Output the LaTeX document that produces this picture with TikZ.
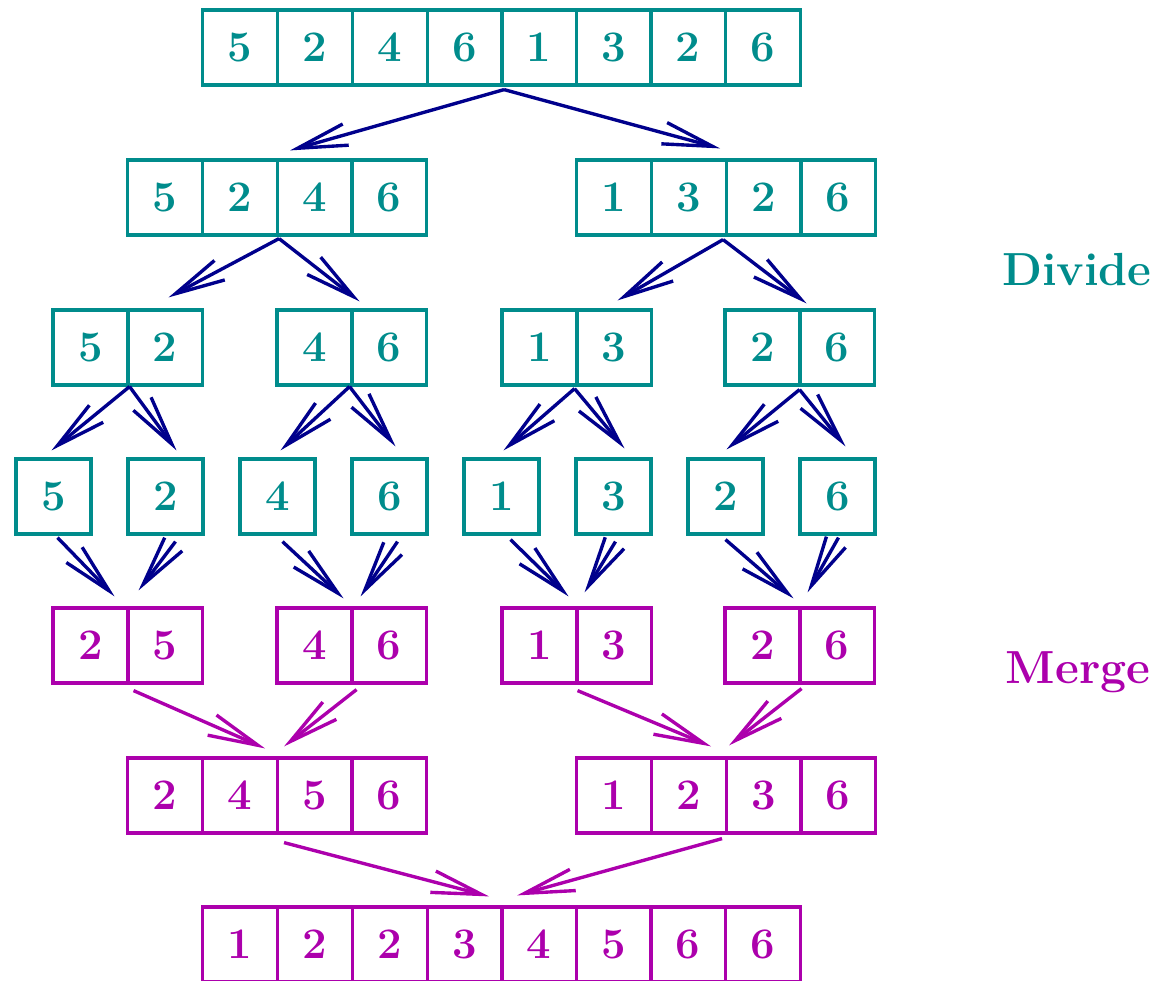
\documentclass[tikz,border=0pt]{standalone}
\usepackage{tikz}
\usepackage{xcolor}
\usetikzlibrary{arrows.meta,calc}

\definecolor{divcol}{RGB}{0,140,140}
\definecolor{mrgcol}{RGB}{172,0,172}
\definecolor{arrcol}{RGB}{0,0,140}

\begin{document}
\begin{tikzpicture}[
  x=0.025cm, y=-0.025cm,
  cell/.style={draw, line width=2.4pt, minimum width=1.8675cm, minimum height=1.87cm, inner sep=0pt,
    font=\fontsize{31}{34}\selectfont\bfseries},
  dcell/.style={cell, divcol, text=divcol},
  mcell/.style={cell, mrgcol, text=mrgcol},
  tag/.style={font=\fontsize{33}{36}\selectfont\bfseries},
  darr/.style={arrcol, line width=2.4pt, -{Straight Barb[length=1.25cm, width=0.55cm]}},
  marr/.style={mrgcol, line width=2.4pt, -{Straight Barb[length=1.25cm, width=0.55cm]}}
]
  \useasboundingbox (0,0) rectangle (1159,981);

  % divide rows
  \foreach \x/\d [count=\i] in {240/5,315/2,390/4,465/6,539/1,614/3,688/2,763/6}
    \node[dcell] (r1c\i) at (\x,47.5) {\d};
  \foreach \x/\d [count=\i] in {165/5,240/2,315/4,389/6,614/1,689/3,764/2,838/6}
    \node[dcell] (r2c\i) at (\x,197.5) {\d};
  \foreach \x/\d [count=\i] in {90.5/5,165/2,314.5/4,389/6,539.5/1,614/3,762.5/2,837/6}
    \node[dcell] (r3c\i) at (\x,347.5) {\d};
  \foreach \x/\d [count=\i] in {53.5/5,165.5/2,277.5/4,389.5/6,501.5/1,613.5/3,725.5/2,837.5/6}
    \node[dcell] (r4c\i) at (\x,496.5) {\d};

  % merge rows
  \foreach \x/\d [count=\i] in {90.5/2,165/5,314.5/4,389/6,539.5/1,614/3,762.5/2,837/6}
    \node[mcell] (r5c\i) at (\x,645.5) {\d};
  \foreach \x/\d [count=\i] in {165/2,240/4,315/5,389/6,614/1,689/2,764/3,838/6}
    \node[mcell] (r6c\i) at (\x,795.5) {\d};
  \foreach \x/\d [count=\i] in {240/1,315/2,390/2,465/3,539/4,614/5,688/6,763/6}
    \node[mcell] (r7c\i) at (\x,944.5) {\d};

  \node[tag, text=divcol] (divide) at (1077,270) {Divide};
  \node[tag, text=mrgcol] (merge) at (1078,672) {Merge};

  % splitting
  \draw[darr] ($(r1c4.south east)+(0,3)$) -- ($(r2c2.north east)+(11,-8)$);
  \draw[darr] ($(r1c4.south east)+(0,3)$) -- ($(r2c6.north east)+(-8,-10)$);

  \draw[darr] ($(r2c2.south east)+(0,2)$) -- ($(r3c1.north east)+(39,-11)$);
  \draw[darr] ($(r2c2.south east)+(0,2)$) -- ($(r3c3.north east)+(6,-7)$);
  \draw[darr] ($(r2c6.south east)+(-5,3)$) -- ($(r3c5.north east)+(39,-8)$);
  \draw[darr] ($(r2c6.south east)+(-5,3)$) -- ($(r3c7.north east)+(5,-5)$);

  \draw[darr] (r3c1.south east) -- ($(r4c1.north)+(-2,-7)$);
  \draw[darr] (r3c1.south east) -- ($(r4c2.north)+(11,-7)$);
  \draw[darr] ($(r3c3.south east)+(-4,0)$) -- ($(r4c3.north)+(3,-7)$);
  \draw[darr] ($(r3c3.south east)+(-4,0)$) -- ($(r4c4.north)+(6,-11)$);
  \draw[darr] ($(r3c5.south east)+(-4,2)$) -- ($(r4c5.north)+(2,-7)$);
  \draw[darr] ($(r3c5.south east)+(-4,2)$) -- ($(r4c6.north)+(11,-9)$);
  \draw[darr] ($(r3c7.south east)+(-2,3)$) -- ($(r4c7.north)+(1,-8)$);
  \draw[darr] ($(r3c7.south east)+(-2,3)$) -- ($(r4c8.north)+(8,-11)$);

  % joining
  \draw[darr] ($(r4c1.south)+(4,2)$) -- ($(r5c1.north east)+(-15,-10)$);
  \draw[darr] ($(r4c2.south)+(10,6)$) -- ($(r5c1.north east)+(9,-16)$);
  \draw[darr] ($(r4c3.south)+(5,6)$) -- ($(r5c3.north east)+(-10,-8)$);
  \draw[darr] ($(r4c4.south)+(8,6)$) -- ($(r5c3.north east)+(7,-10)$);
  \draw[darr] ($(r4c5.south)+(9,4)$) -- ($(r5c5.north east)+(-10,-10)$);
  \draw[darr] ($(r4c6.south)+(2,6)$) -- ($(r5c5.north east)+(6,-14)$);
  \draw[darr] ($(r4c7.south)+(0,4)$) -- ($(r5c7.north east)+(-8,-8)$);
  \draw[darr] ($(r4c8.south)+(1,2)$) -- ($(r5c7.north east)+(6,-14)$);

  \draw[marr] ($(r5c1.south east)+(4,6)$) -- ($(r6c2.north east)+(-14,-8)$);
  \draw[marr] ($(r5c3.south east)+(3,5)$) -- ($(r6c2.north east)+(5,-10)$);
  \draw[marr] ($(r5c5.south east)+(-1,6)$) -- ($(r6c6.north east)+(-17,-10)$);
  \draw[marr] ($(r5c7.south east)+(0,4)$) -- ($(r6c6.north east)+(1,-11)$);

  \draw[marr] ($(r6c2.south east)+(5,8)$) -- ($(r7c4.north east)+(-15,-9)$);
  \draw[marr] ($(r6c6.south east)+(-6,4)$) -- ($(r7c4.north east)+(13,-10)$);
\end{tikzpicture}
\end{document}
